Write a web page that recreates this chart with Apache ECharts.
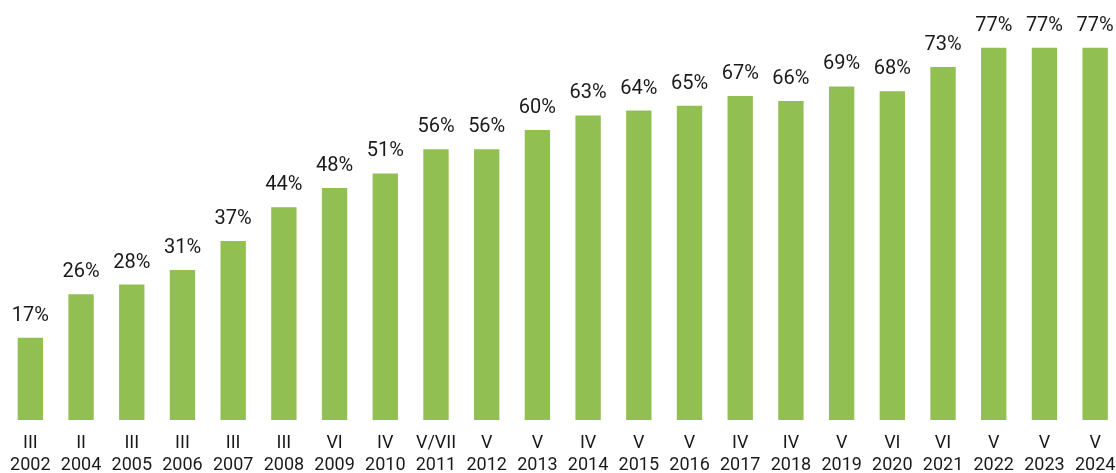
<!DOCTYPE html>
<html>
<head>
<meta charset="utf-8">
<script src="https://cdn.jsdelivr.net/npm/echarts@6/dist/echarts.min.js"></script>
<style>
html,body{margin:0;padding:0;background:#fff;}
#chart{width:1116px;height:473px;}
</style>
</head>
<body>
<div id="chart"></div>
<script>
const quarters = ['III','II','III','III','III','III','VI','IV','V/VII','V','V','IV','V','V','IV','IV','V','VI','VI','V','V','V'];
const years = ['2002','2004','2005','2006','2007','2008','2009','2010','2011','2012','2013','2014','2015','2016','2017','2018','2019','2020','2021','2022','2023','2024'];
const values = [17,26,28,31,37,44,48,51,56,56,60,63,64,65,67,66,69,68,73,77,77,77];

const categories = years.map((y, i) => quarters[i] + '\n' + y);

const chart = echarts.init(document.getElementById('chart'));
chart.setOption({
  animation: false,
  grid: { left: 5, top: 33.2, width: 1115.5, height: 386.8, outerBoundsMode: 'none', containLabel: false },
  xAxis: {
    type: 'category',
    data: categories,
    axisLine: { show: false },
    axisTick: { show: false },
    axisLabel: {
      interval: 0,
      color: '#1a1a1a',
      fontFamily: 'Roboto',
      fontSize: 18,
      lineHeight: 21.5,
      margin: 13
    }
  },
  yAxis: {
    type: 'value',
    min: 0,
    max: 80,
    show: false,
    splitLine: { show: false }
  },
  series: [{
    type: 'bar',
    data: values,
    barWidth: '50%',
    itemStyle: { color: '#92bf52' },
    label: {
      show: true,
      position: 'top',
      distance: 12,
      formatter: '{c}%',
      color: '#1a1a1a',
      fontFamily: 'Roboto',
      fontSize: 20
    }
  }]
});
</script>
</body>
</html>
